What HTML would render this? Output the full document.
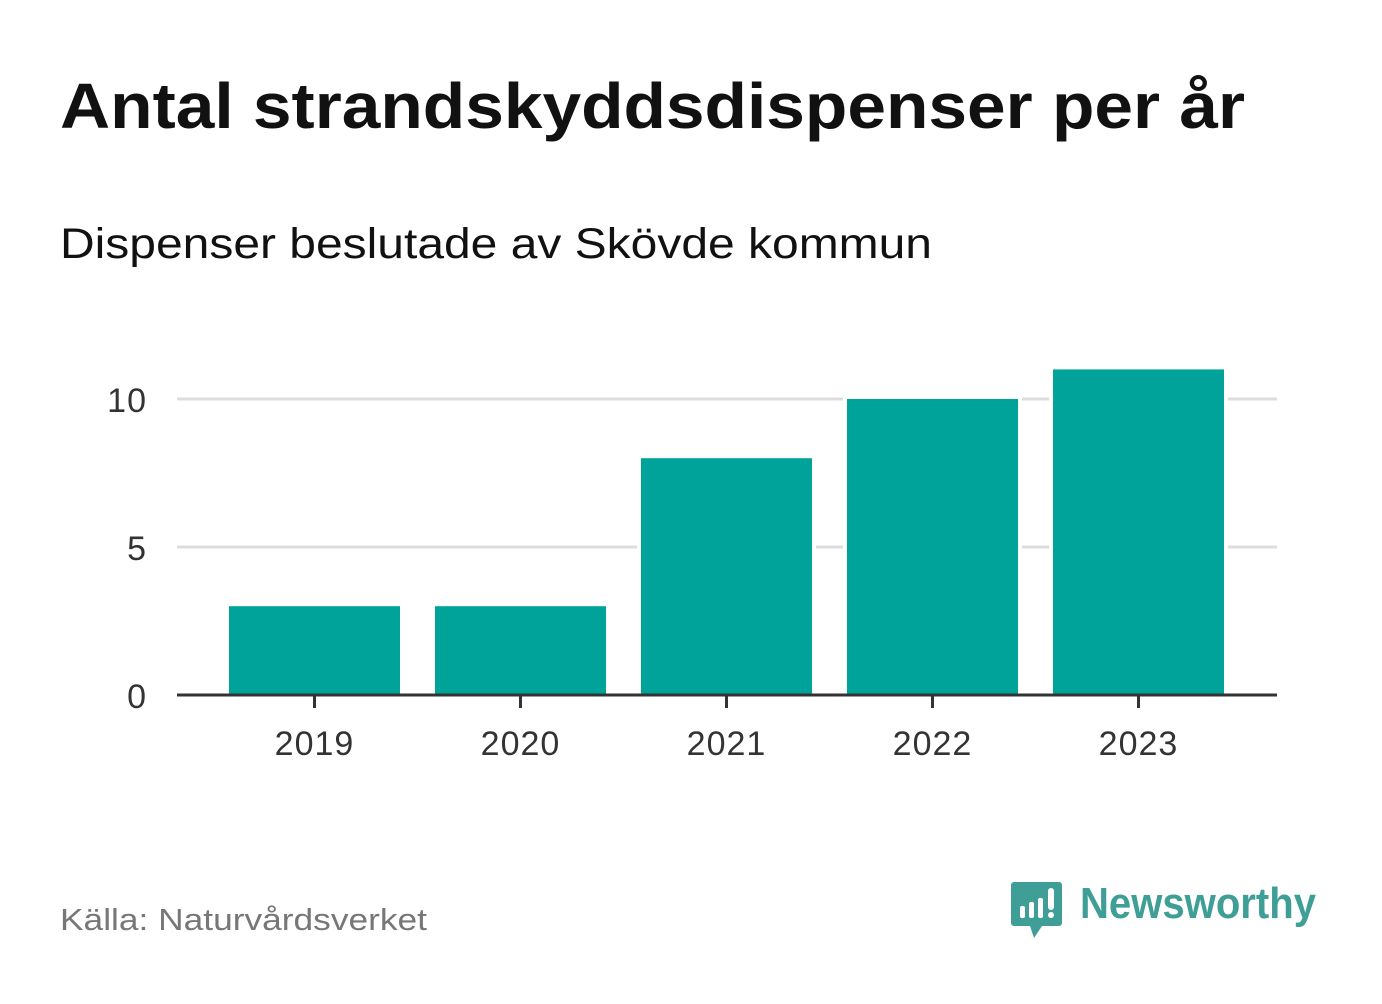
<!DOCTYPE html>
<html><head><meta charset="utf-8">
<style>
body{margin:0;background:#fff;width:1382px;height:999px;overflow:hidden;font-family:"Liberation Sans",sans-serif}
</style></head><body>
<svg width="1382" height="999">
<text x="60" y="128" font-size="64" font-weight="bold" fill="#111" textLength="1185" lengthAdjust="spacingAndGlyphs">Antal strandskyddsdispenser per år</text>
<text x="60" y="258" font-size="43" fill="#111" textLength="872" lengthAdjust="spacingAndGlyphs">Dispenser beslutade av Skövde kommun</text>
<g id="grid"></g><g id="bars"></g><g id="axis"></g>
<text x="60" y="930" font-size="31" fill="#777" textLength="367" lengthAdjust="spacingAndGlyphs">Källa: Naturvårdsverket</text>
<g>
<path d="M1014 882 h45 a3 3 0 0 1 3 3 v38 a3 3 0 0 1 -3 3 h-17 l-8 12 l-4 -12 h-16 a3 3 0 0 1 -3 -3 v-38 a3 3 0 0 1 3 -3z" fill="#3f9f96"/>
<rect x="1020" y="906" width="5" height="12" rx="2" fill="#fff"/>
<rect x="1029" y="902" width="5" height="16" rx="2" fill="#fff"/>
<rect x="1038" y="898" width="5" height="20" rx="2" fill="#fff"/>
<rect x="1048" y="888" width="6" height="22" rx="3" fill="#fff"/>
<circle cx="1051" cy="915" r="3" fill="#fff"/>
<text x="1080" y="918" font-size="44" font-weight="bold" fill="#3f9f96" textLength="236" lengthAdjust="spacingAndGlyphs">Newsworthy</text>
</g>
</svg>
<script>
const categories=["2019","2020","2021","2022","2023"];
const values=[3,3,8,10,11];
const yTicks=[0,5,10];
const NS="http://www.w3.org/2000/svg";
const y=v=>695-v*29.6;
const step=206, bw=171;
const x=i=>229+i*step;
function mk(t,a,p){const e=document.createElementNS(NS,t);for(const k in a)e.setAttribute(k,a[k]);p.appendChild(e);return e;}
const grid=document.getElementById('grid'),bars=document.getElementById('bars'),axis=document.getElementById('axis');
yTicks.forEach(t=>{
 if(t>0){const l=mk('line',{x1:177,x2:1277,y1:y(t),y2:y(t),stroke:'#ddd','stroke-width':3},grid);
 
 }
 const tx=mk('text',{x:147,y:y(t)+13,'font-size':34,fill:'#333','text-anchor':'end','letter-spacing':1},axis);tx.textContent=t;
 
 
});
values.forEach((v,i)=>{
 const r=mk('rect',{x:x(i),y:y(v),width:bw,height:695-y(v),fill:'#00a39a',stroke:'#fff','stroke-width':8,'paint-order':'stroke'},bars);
 
 
 const cx=x(i)+bw/2;
 const tk=mk('line',{x1:cx,x2:cx,y1:695,y2:708,stroke:'#333','stroke-width':3},axis);
 
 
 const tx=mk('text',{x:cx,y:755,'font-size':34,fill:'#333','text-anchor':'middle','letter-spacing':1},axis);tx.textContent=categories[i];
 
 
});
const ax=mk('line',{x1:177,x2:1277,y1:695,y2:695,stroke:'#333','stroke-width':3},axis);


</script>
</body></html>
